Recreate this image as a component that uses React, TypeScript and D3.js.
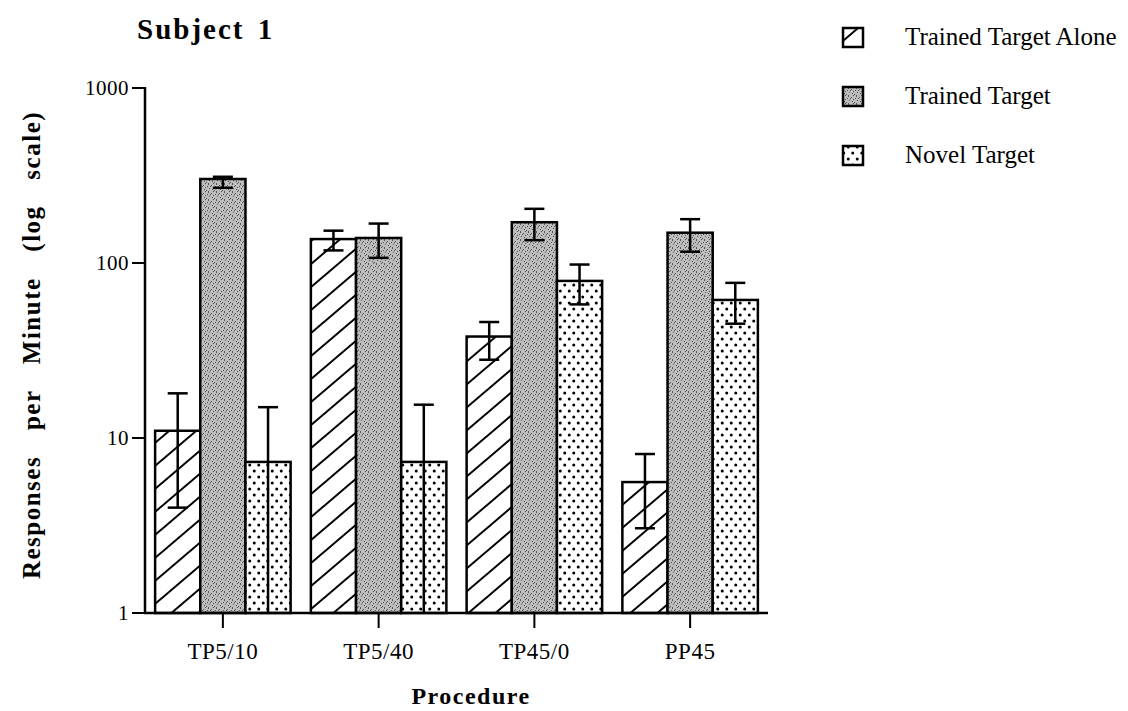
import React from "react";
import * as d3 from "d3";

// Procedures on the x axis
const categories = ["TP5/10", "TP5/40", "TP45/0", "PP45"];

// Series labels (legend order)
const seriesNames = ["Trained Target Alone", "Trained Target", "Novel Target"];

// Responses per minute: mean, upper and lower error limits
const aloneMean = [11, 137, 38, 5.6];
const aloneHigh = [18, 153, 46, 8.1];
const aloneLow = [4, 118, 28, 3.05];

const trainedMean = [302, 139, 171, 149];
const trainedHigh = [311, 168, 204, 178];
const trainedLow = [269, 107, 135, 116];

const novelMean = [7.3, 7.3, 79, 61.5];
const novelHigh = [15, 15.5, 98, 77];
const novelLow = [0.5, 0.5, 58, 45];

// Log axis ticks
const yTicks = [1, 10, 100, 1000];

const W = 1128;
const H = 711;
const X0 = 145;
const X1 = 768;
const Y0 = 613;
const Y1 = 88;

const FONT = "'Liberation Serif', 'Times New Roman', serif";
const fills = ["url(#hatch)", "url(#stipple)", "url(#dots)"];

// fixed speckle positions for the grey stipple tile
const speckles: [number, number][] = [
  [0, 0], [3, 1], [5, 3], [1, 4], [4, 5], [2, 2], [6, 6], [0, 7], [7, 2], [5, 7],
];

export default function App() {
  const x = d3
    .scaleBand<string>()
    .domain(categories)
    .range([X0, X1])
    .paddingInner(0.13)
    .paddingOuter(0.065);
  const inner = d3
    .scaleBand<string>()
    .domain(seriesNames)
    .range([0, x.bandwidth()]);
  const y = d3.scaleLog().domain([1, 1000]).range([Y0, Y1]).clamp(true);

  const series = [
    { name: seriesNames[0], mean: aloneMean, hi: aloneHigh, lo: aloneLow },
    { name: seriesNames[1], mean: trainedMean, hi: trainedHigh, lo: trainedLow },
    { name: seriesNames[2], mean: novelMean, hi: novelHigh, lo: novelLow },
  ];

  const capHalf = 10;

  return (
    <svg width={W} height={H} viewBox={`0 0 ${W} ${H}`} style={{ display: "block", position: "absolute", left: 0, top: 0 }}>
      <defs>
        <pattern id="hatch" patternUnits="userSpaceOnUse" width={27} height={23}>
          <rect width={27} height={23} fill="#fff" />
          <g stroke="#000" strokeWidth={2}>
            <line x1={0} y1={23} x2={27} y2={0} />
            <line x1={-27} y1={23} x2={27} y2={-23} />
            <line x1={0} y1={46} x2={54} y2={0} />
          </g>
        </pattern>
        <pattern id="stipple" patternUnits="userSpaceOnUse" width={8} height={8}>
          <rect width={8} height={8} fill="#bdbdbd" />
          {speckles.map(([sx, sy], i) => (
            <rect key={i} x={sx} y={sy} width={1} height={1} fill="#555" />
          ))}
        </pattern>
        <pattern id="dots" patternUnits="userSpaceOnUse" width={9} height={12}>
          <rect width={9} height={12} fill="#fff" />
          <circle cx={2.25} cy={3} r={1.5} fill="#000" />
          <circle cx={6.75} cy={9} r={1.5} fill="#000" />
        </pattern>
      </defs>

      {/* Title */}
      <text x={137} y={39} fontFamily={FONT} fontWeight="bold" fontSize={29} letterSpacing={2} wordSpacing={4}>
        Subject 1
      </text>

      {/* Bars */}
      {series.map((s, si) =>
        categories.map((c, ci) => {
          const bx = (x(c) ?? 0) + (inner(s.name) ?? 0);
          const bw = inner.bandwidth();
          const top = y(s.mean[ci]);
          return (
            <rect
              key={`${si}-${ci}`}
              x={bx}
              y={top}
              width={bw}
              height={Y0 - top}
              fill={fills[si]}
              stroke="#000"
              strokeWidth={2.5}
            />
          );
        })
      )}

      {/* Error bars */}
      {series.map((s, si) =>
        categories.map((c, ci) => {
          const cx = (x(c) ?? 0) + (inner(s.name) ?? 0) + inner.bandwidth() / 2;
          const top = y(s.mean[ci]);
          const hi = y(s.hi[ci]);
          const loClipped = s.lo[ci] < 1;
          const lo = y(Math.max(s.lo[ci], 1));
          return (
            <g key={`e${si}-${ci}`} stroke="#000" strokeWidth={2.5}>
              <line x1={cx} x2={cx} y1={top} y2={hi} />
              <line x1={cx - capHalf} x2={cx + capHalf} y1={hi} y2={hi} />
              <line x1={cx} x2={cx} y1={top} y2={lo} />
              {!loClipped && <line x1={cx - capHalf} x2={cx + capHalf} y1={lo} y2={lo} />}
            </g>
          );
        })
      )}

      {/* Y axis */}
      <line x1={X0} x2={X0} y1={Y1 - 1} y2={Y0 + 1} stroke="#000" strokeWidth={2.5} />
      {yTicks.map((t) => (
        <g key={t}>
          <line x1={X0 - 13} x2={X0} y1={y(t)} y2={y(t)} stroke="#000" strokeWidth={2} />
          <text
            x={X0 - 16}
            y={y(t)}
            dy="0.35em"
            textAnchor="end"
            fontFamily={FONT}
            fontSize={21}
            letterSpacing={0.5}
          >
            {t}
          </text>
        </g>
      ))}

      {/* X axis */}
      <line x1={X0 - 1} x2={X1} y1={Y0} y2={Y0} stroke="#000" strokeWidth={2.5} />
      {categories.map((c) => {
        const cx = (x(c) ?? 0) + x.bandwidth() / 2;
        return (
          <g key={c}>
            <line x1={cx} x2={cx} y1={Y0} y2={Y0 + 15} stroke="#000" strokeWidth={2} />
            <text x={cx} y={659} textAnchor="middle" fontFamily={FONT} fontSize={23} letterSpacing={0.5}>
              {c}
            </text>
          </g>
        );
      })}

      {/* Axis titles */}
      <text x={471} y={704} textAnchor="middle" fontFamily={FONT} fontWeight="bold" fontSize={24} letterSpacing={1.5}>
        Procedure
      </text>
      <text
        transform={`translate(40, 345) rotate(-90)`}
        textAnchor="middle"
        fontFamily={FONT}
        fontWeight="bold"
        fontSize={25}
        letterSpacing={1.5}
        wordSpacing={18}
      >
        Responses per Minute (log scale)
      </text>

      {/* Legend */}
      {seriesNames.map((n, i) => {
        const ly = 28 + i * 59;
        return (
          <g key={n}>
            <rect x={843} y={ly} width={20} height={19} fill={fills[i]} stroke="#000" strokeWidth={2.5} />
            <text x={905} y={ly + 17} fontFamily={FONT} fontSize={25}>
              {n}
            </text>
          </g>
        );
      })}
    </svg>
  );
}
